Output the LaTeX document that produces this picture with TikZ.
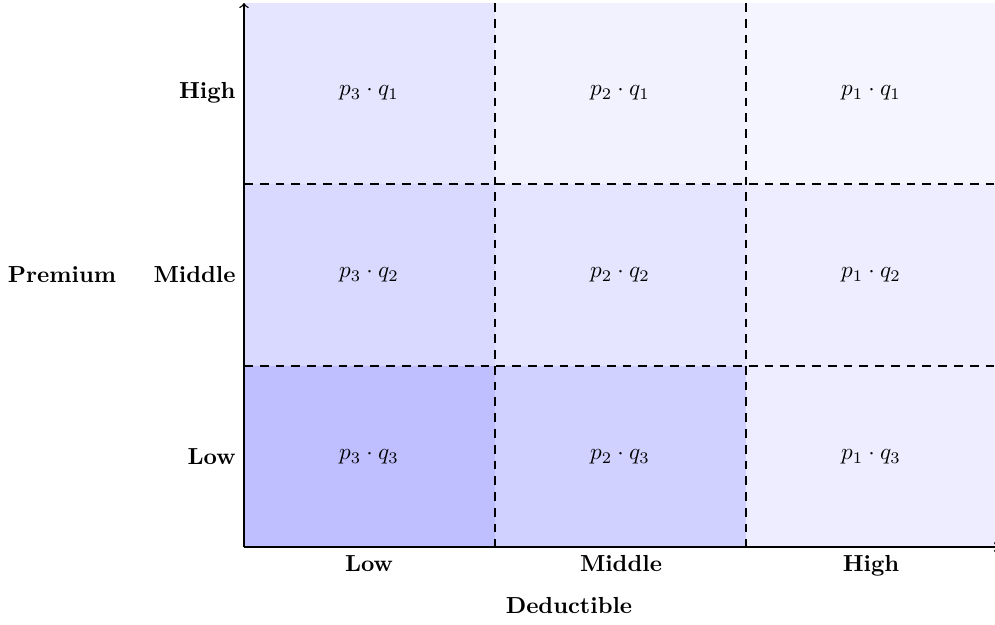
\documentclass[tikz,border=0pt]{standalone}
\usetikzlibrary{arrows}
\begin{document}
\begin{tikzpicture}[x=0.431pt,y=-0.431pt,
  lbl/.style={font=\bfseries,inner sep=0pt},
  cell/.style={inner sep=0pt},
  grid/.style={thick,dash pattern=on 3.8pt off 3pt},
  axis/.style={semithick,->}]
\useasboundingbox (0,0) rectangle (995,624);
\clip (0,0) rectangle (995,624);
% cell fills
\fill[blue!10] (244,3) rectangle (495,184);
\fill[blue!5] (495,3) rectangle (746,184);
\fill[blue!4] (746,3) rectangle (1000,184);
\fill[blue!15] (244,184) rectangle (495,366);
\fill[blue!10] (495,184) rectangle (746,366);
\fill[blue!7] (746,184) rectangle (1000,366);
\fill[blue!25] (244,366) rectangle (495,547);
\fill[blue!18] (495,366) rectangle (746,547);
\fill[blue!7] (746,366) rectangle (1000,547);
% dashed grid
\coordinate (v1t) at (495,3); \coordinate (v1b) at (495,547);
\coordinate (v2t) at (746,3); \coordinate (v2b) at (746,547);
\coordinate (h1l) at (244,184); \coordinate (h1r) at (1000,184);
\coordinate (h2l) at (244,366); \coordinate (h2r) at (1000,366);
\draw[grid] (v1t) -- (v1b);
\draw[grid] (v2t) -- (v2b);
\draw[grid] (h1l) -- (h1r);
\draw[grid] (h2l) -- (h2r);
% axes
\coordinate (o) at (244,547);
\coordinate (ytop) at (244,3);
\coordinate (xend) at (999,547);
\draw[axis] (o) -- (ytop);
\draw[axis] (o) -- (xend);
% cell texts
\node[cell] (c13) at (369,93) {$p_3\cdot q_1$};
\node[cell] (c12) at (620,93) {$p_2\cdot q_1$};
\node[cell] (c11) at (871,93) {$p_1\cdot q_1$};
\node[cell] (c23) at (369,275) {$p_3\cdot q_2$};
\node[cell] (c22) at (620,275) {$p_2\cdot q_2$};
\node[cell] (c21) at (871,275) {$p_1\cdot q_2$};
\node[cell] (c33) at (369,457) {$p_3\cdot q_3$};
\node[cell] (c32) at (620,457) {$p_2\cdot q_3$};
\node[cell] (c31) at (871,457) {$p_1\cdot q_3$};
% row labels
\node[lbl,anchor=east] (rh) at (236,93) {High};
\node[lbl,anchor=east] (rm) at (236,275) {Middle};
\node[lbl,anchor=east] (rl) at (236,457) {Low};
\node[lbl] (prem) at (62,275) {Premium};
% column labels
\node[lbl,anchor=base] (cl) at (369,571) {Low};
\node[lbl,anchor=base] (cm) at (621,571) {Middle};
\node[lbl,anchor=base] (ch) at (871,571) {High};
\node[lbl] (ded) at (569,606) {Deductible};
\end{tikzpicture}
\end{document}
